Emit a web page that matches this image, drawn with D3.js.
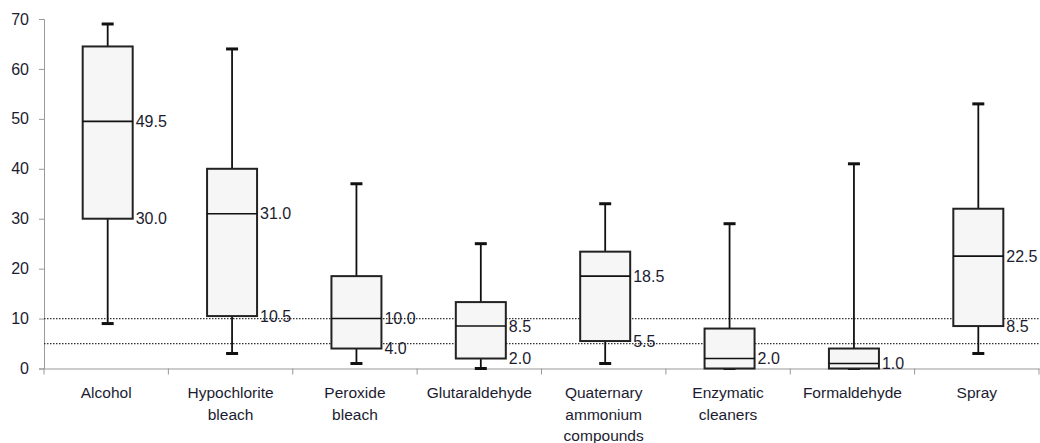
<!DOCTYPE html>
<html><head><meta charset="utf-8">
<script src="https://cdn.jsdelivr.net/npm/d3@7"></script>
<style>
html,body{margin:0;padding:0;background:#fff;}
svg{display:block;}
text{font-family:"Liberation Sans",Arial,sans-serif;}
</style></head>
<body>
<svg id="chart" width="1040" height="443"></svg>
<script>
const categories = [["Alcohol"],["Hypochlorite","bleach"],["Peroxide","bleach"],["Glutaraldehyde"],["Quaternary","ammonium","compounds"],["Enzymatic","cleaners"],["Formaldehyde"],["Spray"]];
const whiskerMin = [9, 3, 1, 0, 1, 0, 0, 3];
const q1 = [30.0, 10.5, 4.0, 2.0, 5.5, 0, 0, 8.5];
const median = [49.5, 31.0, 10.0, 8.5, 18.5, 2.0, 1.0, 22.5];
const q3 = [64.5, 40, 18.5, 13.3, 23.4, 8, 4, 32];
const whiskerMax = [69, 64, 37, 25, 33, 29, 41, 53];
const q1Labels = ["30.0","10.5","4.0","2.0","5.5","","","8.5"];
const medianLabels = ["49.5","31.0","10.0","8.5","18.5","2.0","1.0","22.5"];
const refLines = [10, 5];
const yTicks = [0,10,20,30,40,50,60,70];

const svg = d3.select("#chart");
const mLeft = 44, mRight = 1039, mTop = 19, mBottom = 368.5;
const idx = categories.map((d,i)=>i);
const x = d3.scaleBand().domain(idx).range([mLeft, mRight]);
const y = d3.scaleLinear().domain([0,70]).range([mBottom, mTop]);
const boxW = 50;
const cx = i => x(i) + x.bandwidth()/2 + 1.5;
const txtCol = "#1c1c30";

// y axis
const yAxis = svg.append("g").attr("transform",`translate(${mLeft},0)`)
  .call(d3.axisLeft(y).tickValues(yTicks).tickSize(5).tickPadding(10).tickFormat(d3.format("d")));
yAxis.select(".domain").attr("stroke","#999").attr("stroke-width",1);
yAxis.selectAll(".tick line").attr("stroke","#999");
yAxis.selectAll(".tick text").attr("fill",txtCol).style("font-size","16px").style("font-family","'Liberation Sans',Arial,sans-serif");

// x axis
const xAxis = svg.append("g").attr("transform",`translate(0,${mBottom})`)
  .call(d3.axisBottom(x).tickSize(0).tickFormat(""));
xAxis.select(".domain").attr("stroke","#999").attr("stroke-width",1);
xAxis.selectAll(".tick").remove();
const bounds = idx.map(i=>x(i)).concat([mRight]);
svg.append("g").selectAll("line").data(bounds).join("line")
  .attr("x1",d=>d).attr("x2",d=>d).attr("y1",mBottom).attr("y2",mBottom+6)
  .attr("stroke","#999").attr("stroke-width",1);

// category labels
const labG = svg.append("g");
idx.forEach(i=>{
  const t = labG.append("text").attr("x", x(i)+x.bandwidth()/2).attr("y", 398)
    .attr("text-anchor","middle").attr("fill",txtCol).style("font-size","15.5px");
  categories[i].forEach((ln,k)=>{
    t.append("tspan").attr("x", x(i)+x.bandwidth()/2).attr("dy", k===0?0:21.5).text(ln);
  });
});

// reference lines
svg.append("g").selectAll("line").data(refLines).join("line")
  .attr("x1",mLeft).attr("x2",mRight+1).attr("y1",d=>y(d)).attr("y2",d=>y(d))
  .attr("stroke","#333").attr("stroke-width",1.2).attr("stroke-dasharray","1.5,1.5");

// whiskers
const g = svg.append("g");
g.selectAll("line.wh").data(idx).join("line").attr("class","wh")
  .attr("x1",cx).attr("x2",cx).attr("y1",i=>y(whiskerMin[i])).attr("y2",i=>y(whiskerMax[i]))
  .attr("stroke","#111").attr("stroke-width",1.8);
g.selectAll("line.capT").data(idx).join("line").attr("class","capT")
  .attr("x1",i=>cx(i)-6).attr("x2",i=>cx(i)+6).attr("y1",i=>y(whiskerMax[i])).attr("y2",i=>y(whiskerMax[i]))
  .attr("stroke","#111").attr("stroke-width",3);
g.selectAll("line.capB").data(idx).join("line").attr("class","capB")
  .attr("x1",i=>cx(i)-6).attr("x2",i=>cx(i)+6).attr("y1",i=>y(whiskerMin[i])).attr("y2",i=>y(whiskerMin[i]))
  .attr("stroke","#111").attr("stroke-width",3);
// boxes
g.selectAll("rect").data(idx).join("rect")
  .attr("x",i=>cx(i)-boxW/2).attr("width",boxW)
  .attr("y",i=>y(q3[i])).attr("height",i=>y(q1[i])-y(q3[i]))
  .attr("fill","#f6f6f6").attr("stroke","#222").attr("stroke-width",2);
g.selectAll("line.med").data(idx).join("line").attr("class","med")
  .attr("x1",i=>cx(i)-boxW/2).attr("x2",i=>cx(i)+boxW/2).attr("y1",i=>y(median[i])).attr("y2",i=>y(median[i]))
  .attr("stroke","#111").attr("stroke-width",1.6);

// value labels
g.selectAll("text.ml").data(idx).join("text").attr("class","ml")
  .attr("x",i=>cx(i)+boxW/2+3).attr("y",i=>y(median[i])).attr("dy","0.35em")
  .attr("fill",txtCol).style("font-size","16px").text(i=>medianLabels[i]);
g.selectAll("text.ql").data(idx).join("text").attr("class","ql")
  .attr("x",i=>cx(i)+boxW/2+3).attr("y",i=>y(q1[i])).attr("dy","0.35em")
  .attr("fill",txtCol).style("font-size","16px").text(i=>q1Labels[i]);
</script>
</body></html>
